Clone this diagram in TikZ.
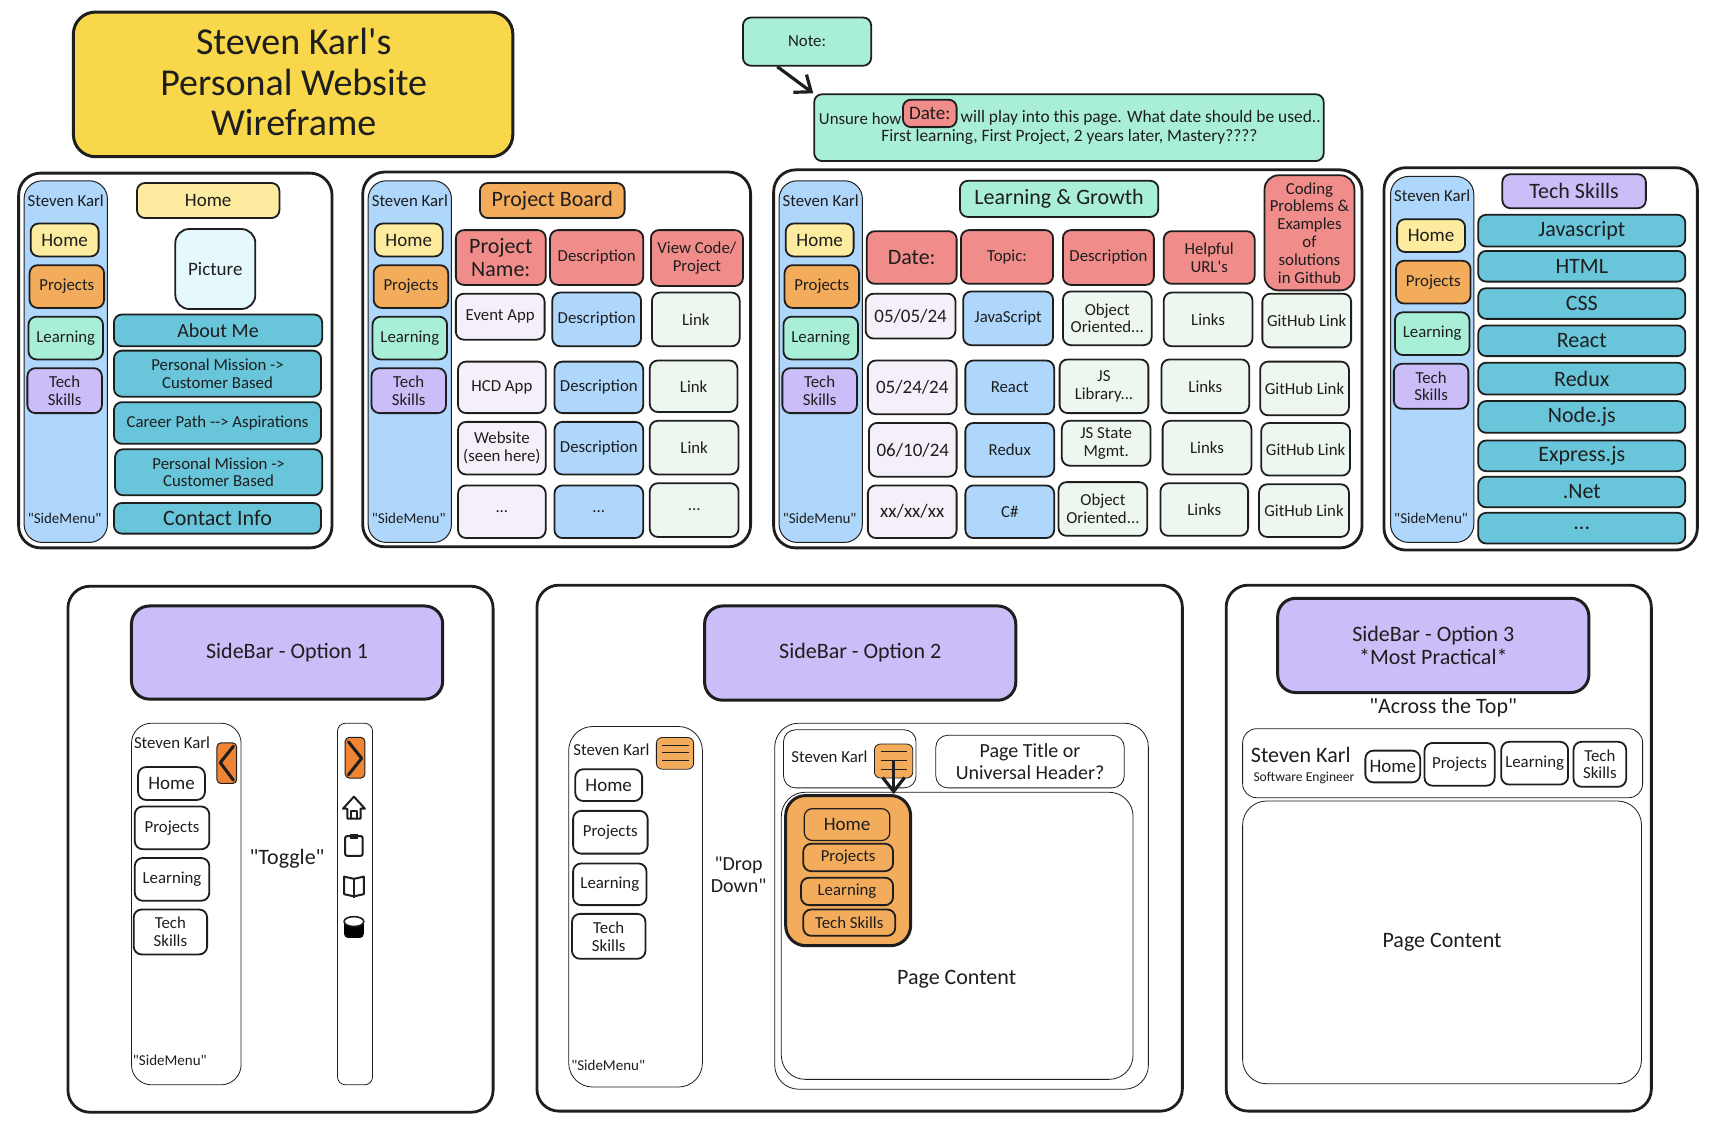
\documentclass[tikz,border=0pt]{standalone}
\usepackage{fontspec}
\setmainfont{Carlito}[Ligatures=TeXOff]
\usetikzlibrary{arrows.meta}
\definecolor{ink}{HTML}{1E1E1E}
\definecolor{sunny}{HTML}{F8D84A}
\definecolor{butter}{HTML}{FDECA0}
\definecolor{tangerine}{HTML}{F3AC5B}
\definecolor{burnt}{HTML}{EE8434}
\definecolor{mint}{HTML}{A9EFD8}
\definecolor{lilac}{HTML}{CBBDF8}
\definecolor{sky}{HTML}{AFD6FB}
\definecolor{teal}{HTML}{69C5DA}
\definecolor{salmon}{HTML}{F08C8A}
\definecolor{palelilac}{HTML}{F5EFF9}
\definecolor{palegreen}{HTML}{EEF7EF}
\definecolor{paleblue}{HTML}{E5F8FC}
\tikzset{
  sz7/.style={font=\fontsize{7.5}{8.5}\selectfont},
  sz8/.style={font=\fontsize{8.4}{8.9}\selectfont},
  szline/.style={font=\fontsize{8.7}{9.5}\selectfont},
  sz9/.style={font=\fontsize{9.5}{11}\selectfont},
  sz10/.style={font=\fontsize{10}{11}\selectfont},
  sz11/.style={font=\fontsize{11}{11.2}\selectfont},
  sz17/.style={font=\fontsize{19}{20.2}\selectfont},
  label/.style={text=ink, inner sep=0pt, align=center},
  card/.style={draw=ink, fill=#1, line width=.9pt, rounded corners=4pt, label},
  frame/.style={draw=ink, fill=white, line width=1.4pt, rounded corners=11pt, label},
  wire/.style={draw=ink, fill=white, line width=.4pt, rounded corners=#1, label},
  banner/.style={draw=ink, fill=lilac, line width=1.5pt, rounded corners=9pt, label, sz11},
  tip/.style={draw=ink, line width=1.6pt, -{Straight Barb[length=7pt,width=11pt]}},
  stroke/.style={draw=ink, line width=1pt, line cap=round, line join=round},
}
% corners of a box: name, style, x1, y1, x2, y2, text
\newcommand{\wbox}[7]{\node[#2, minimum width={((#5)-(#3))*0.548pt}, minimum height={((#6)-(#4))*0.548pt}] (#1) at ({((#3)+(#5))/2},{((#4)+(#6))/2}) {#7};}
\begin{document}
\begin{tikzpicture}[x=0.548pt,y=-0.548pt]
\useasboundingbox (0,0) rectangle (1566,1036.7);
% title and note
\wbox{title}{card=sunny, line width=1.5pt, rounded corners=11pt}{67}{11}{468}{143}{}
\node[label, sz17] (titletext) at (268,75) {Steven Karl's\\Personal Website\\Wireframe};
\wbox{note}{card=mint, sz8}{678}{16}{795}{60}{Note:}
\wbox{unsure}{card=mint}{743}{86}{1208}{147}{}
\wbox{date}{card=salmon, sz9}{824}{91}{873}{116}{Date:}
\node[label, sz8] (unsureA) at (785,108) {Unsure how};
\node[label, szline] (unsureB) at (1041,108) {will play into this page. What date should be used..};
\node[label, szline] (unsureC) at (976,125) {First learning, First Project, 2 years later, Mastery????};
\draw[tip] (note.220) -- (unsure.north west);
% page frames
\wbox{homeframe}{frame}{17}{158}{303}{500}{}
\wbox{boardframe}{frame}{331}{157}{685}{499}{}
\wbox{growthframe}{frame}{706}{155}{1243}{500}{}
\wbox{skillsframe}{frame}{1263}{153}{1549}{502}{}
% side menus
\foreach \n/\sx/\sy in {a/0/0,b/314/0,c/689/0,d/1247/-4}{
  \wbox{\n-side}{card=sky, line width=.5pt, rounded corners=9pt}{\sx+22}{\sy+165}{\sx+98}{495}{}
  \node[label, sz8] (\n-brand) at (\sx+60,\sy+183) {Steven Karl};
  \wbox{\n-home}{card=butter, sz9}{\sx+28}{\sy+204}{\sx+90}{\sy+234}{Home}
  \wbox{\n-projects}{card=tangerine, sz8}{\sx+27}{\sy+242}{\sx+95}{\sy+281}{Projects}
  \wbox{\n-learning}{card=mint, sz8}{\sx+26}{\sy+289}{\sx+94}{\sy+328}{Learning}
  \wbox{\n-tech}{card=lilac, sz8}{\sx+25}{\sy+336}{\sx+93}{\sy+377}{Tech\\Skills}
  \node[label, sz7] (\n-menu) at (\sx+59,473) {"SideMenu"};
}
% home page
\wbox{homehead}{card=butter, sz9}{125}{167}{255}{199}{Home}
\wbox{picture}{card=paleblue, sz9, rounded corners=7pt}{160}{209}{233}{282}{Picture}
\wbox{about}{card=teal, sz10}{104}{287}{294}{316}{About Me}
\wbox{missionA}{card=teal, sz8}{104}{320}{293}{362}{Personal Mission ->\\Customer Based}
\wbox{career}{card=teal, sz8}{104}{367}{293}{405}{Career Path --> Aspirations}
\wbox{missionB}{card=teal, sz8}{105}{410}{294}{452}{Personal Mission ->\\Customer Based}
\wbox{contact}{card=teal, sz11}{104}{459}{293}{487}{Contact Info}
% project board
\wbox{boardhead}{card=tangerine, sz11}{438}{167}{570}{199}{Project Board}
\wbox{bname}{card=salmon, sz11}{416}{210}{498}{260}{Project\\Name:}
\wbox{bdesc}{card=salmon, sz8}{502}{210}{587}{260}{Description}
\wbox{bcode}{card=salmon, sz8}{594}{210}{678}{261}{View Code/\\Project}
\wbox{eventapp}{card=palelilac, sz8}{416}{268}{497}{310}{Event App}
\wbox{bdescA}{card=sky, sz8}{504}{267}{585}{316}{Description}
\wbox{blinkA}{card=palegreen, sz8}{595}{267}{675}{316}{Link}
\wbox{hcdapp}{card=palelilac, sz8}{418}{330}{498}{377}{HCD App}
\wbox{bdescB}{card=sky, sz8}{506}{330}{587}{377}{Description}
\wbox{blinkB}{card=palegreen, sz8}{593}{329}{673}{376}{Link}
\wbox{website}{card=palelilac, sz8}{418}{385}{498}{433}{Website\\(seen here)}
\wbox{bdescC}{card=sky, sz8}{506}{385}{587}{433}{Description}
\wbox{blinkC}{card=palegreen, sz8}{593}{384}{674}{433}{Link}
\wbox{bmoreA}{card=palelilac, sz8}{418}{443}{498}{491}{...}
\wbox{bmoreB}{card=sky, sz8}{506}{443}{587}{491}{...}
\wbox{bmoreC}{card=palegreen, sz8}{593}{441}{674}{490}{...}
% learning and growth
\wbox{growthhead}{card=mint, sz11}{876}{165}{1057}{198}{Learning \& Growth}
\wbox{coding}{card=salmon, sz8, rounded corners=7pt}{1154}{160}{1236}{265}{Coding\\Problems \&\\Examples\\of\\solutions\\in Github}
\wbox{gdate}{card=salmon, sz11}{791}{211}{873}{259}{Date:}
\wbox{gtopic}{card=salmon, sz8}{877}{210}{961}{259}{Topic:}
\wbox{gdesc}{card=salmon, sz8}{970}{210}{1053}{260}{Description}
\wbox{ghelp}{card=salmon, sz8}{1062}{211}{1145}{259}{Helpful\\URL's}
\wbox{dateA}{card=palelilac, sz9}{790}{268}{872}{309}{05/05/24}
\wbox{topicA}{card=sky, sz8}{879}{266}{961}{315}{JavaScript}
\wbox{descA}{card=palegreen, sz8}{970}{266}{1051}{315}{Object\\Oriented...}
\wbox{linksA}{card=palegreen, sz8}{1062}{267}{1143}{316}{Links}
\wbox{hubA}{card=palegreen, sz8}{1152}{268}{1233}{317}{GitHub Link}
\wbox{dateB}{card=palelilac, sz9}{792}{329}{873}{378}{05/24/24}
\wbox{topicB}{card=sky, sz8}{881}{329}{962}{378}{React}
\wbox{descB}{card=palegreen, sz8}{967}{328}{1048}{377}{JS\\Library...}
\wbox{linksB}{card=palegreen, sz8}{1060}{328}{1140}{377}{Links}
\wbox{hubB}{card=palegreen, sz8}{1150}{330}{1231}{379}{GitHub Link}
\wbox{dateC}{card=palelilac, sz9}{793}{386}{873}{435}{06/10/24}
\wbox{topicC}{card=sky, sz8}{881}{386}{962}{435}{Redux}
\wbox{descC}{card=palegreen, sz8}{969}{384}{1050}{425}{JS State\\Mgmt.}
\wbox{linksC}{card=palegreen, sz8}{1061}{384}{1142}{433}{Links}
\wbox{hubC}{card=palegreen, sz8}{1151}{386}{1232}{434}{GitHub Link}
\wbox{dateD}{card=palelilac, sz9}{792}{443}{873}{491}{xx/xx/xx}
\wbox{topicD}{card=sky, sz8}{881}{443}{962}{491}{C\#}
\wbox{descD}{card=palegreen, sz8}{966}{440}{1047}{489}{Object\\Oriented...}
\wbox{linksD}{card=palegreen, sz8}{1059}{441}{1139}{489}{Links}
\wbox{hubD}{card=palegreen, sz8}{1149}{442}{1231}{490}{GitHub Link}
% tech skills
\wbox{skillshead}{card=lilac, sz11}{1371}{159}{1502}{190}{Tech Skills}
\foreach \n/\ya/\yb/\lab in {js/196/225/Javascript,html/229/257/HTML,css/263/291/CSS,react/297/325/React,redux/331/360/Redux,node/366/395/Node.js,express/402/430/Express.js,net/435/463/.Net}{
  \wbox{\n}{card=teal, sz11}{1349}{\ya}{1538}{\yb}{\lab}
}
\wbox{more}{card=teal, sz11}{1349}{468}{1538}{496}{...}
% option 1
\wbox{optAframe}{frame}{62}{535}{450}{1015}{}
\wbox{optAhead}{banner}{120}{553}{404}{638}{SideBar - Option 1}
\wbox{optAside}{wire=10pt}{120}{660}{220}{990}{}
\node[label, sz8] (optAbrand) at (157,678) {Steven Karl};
\wbox{optAtoggle}{card=burnt, line width=.5pt, rounded corners=2pt}{198}{678}{216}{715}{}
\draw[stroke, line width=1.5pt] (213,681) -- (201,696) -- (213,712);
\wbox{optAhome}{card=white, sz9}{126}{700}{187}{730}{Home}
\wbox{optAprojects}{card=white, sz8}{123}{736}{191}{775}{Projects}
\wbox{optAlearning}{card=white, sz8}{123}{783}{191}{822}{Learning}
\wbox{optAtech}{card=white, sz8}{122}{830}{189}{871}{Tech\\Skills}
\node[label, sz7] (optAmenu) at (155,968) {"SideMenu"};
\node[label, sz11] (toggle) at (262,784) {"Toggle"};
\wbox{rail}{wire=4pt}{308}{660}{340}{990}{}
\wbox{railtoggle}{card=burnt, line width=.5pt, rounded corners=2pt}{315}{673}{333}{710}{}
\draw[stroke, line width=1.5pt] (318,677) -- (330,692) -- (318,707);
% rail icons
\draw[stroke] (313,738) -- (323,727) -- (333,738) -- (329,738) -- (329,747) -- (317,747) -- (317,738) -- cycle;
\draw[stroke] (320,747) -- (320,740) -- (326,740) -- (326,747);
\draw[stroke, rounded corners=1pt] (315,763) rectangle (331,781);
\fill[ink] (319,761) rectangle (327,766);
\draw[stroke] (323,802) -- (314,800) -- (314,816) -- (323,818) -- (332,816) -- (332,800) -- cycle;
\draw[stroke] (323,802) -- (323,819);
\fill[black, rounded corners=2pt] (314,840) rectangle (332,856);
\draw[stroke, fill=white, line width=.8pt] (323,841) ellipse [x radius=9, y radius=4.5];
% option 2
\wbox{optBframe}{frame}{490}{534}{1079}{1014}{}
\wbox{optBhead}{banner}{643}{553}{927}{639}{SideBar - Option 2}
\wbox{optBside}{wire=12pt}{519}{663}{641}{992}{}
\node[label, sz8] (optBbrand) at (558,684) {Steven Karl};
\wbox{burgerA}{card=tangerine, line width=.4pt, rounded corners=3pt}{599}{673}{633}{702}{}
\foreach \y in {680,687,694}{\draw[ink, line width=.5pt] (604,\y) -- (629,\y);}
\wbox{optBhome}{card=white, sz9}{525}{702}{586}{731}{Home}
\wbox{optBprojects}{card=white, sz8}{523}{740}{591}{779}{Projects}
\wbox{optBlearning}{card=white, sz8}{523}{788}{590}{826}{Learning}
\wbox{optBtech}{card=white, sz8}{522}{834}{589}{875}{Tech\\Skills}
\node[label, sz7] (optBmenu) at (555,972) {"SideMenu"};
\node[label, sz10] (dropdown) at (674,798) {"Drop\\Down"};
\wbox{optBouter}{wire=12pt}{707}{660}{1048}{994}{}
\wbox{optBtop}{wire=6pt}{715}{666}{836}{719}{}
\node[label, sz8] (optBtopbrand) at (757,691) {Steven Karl};
\wbox{burgerB}{card=tangerine, line width=.4pt, rounded corners=3pt}{798}{679}{833}{710}{}
\foreach \y in {686,694,702}{\draw[ink, line width=.5pt] (804,\y) -- (828,\y);}
\wbox{pagetitle}{wire=6pt, sz10}{854}{671}{1026}{719}{Page Title or\\Universal Header?}
\wbox{optBcontent}{wire=12pt}{713}{723}{1034}{985}{}
\wbox{droppanel}{card=tangerine, line width=1.5pt, rounded corners=10pt}{717}{726}{831}{863}{}
\wbox{dropA}{card=tangerine, line width=.6pt, sz9}{734}{738}{812}{767}{Home}
\wbox{dropB}{card=tangerine, sz8}{733}{770}{815}{795}{Projects}
\wbox{dropC}{card=tangerine, sz8}{731}{801}{815}{826}{Learning}
\wbox{dropD}{card=tangerine, sz8}{733}{830}{817}{854}{Tech Skills}
\draw[tip] (burgerB.center) -- (burgerB.center |- droppanel.north);
\node[label, sz11] (optBpage) at (873,894) {Page Content};
% option 3
\wbox{optCframe}{frame}{1119}{534}{1507}{1014}{}
\wbox{optChead}{banner}{1166}{546}{1450}{632}{SideBar - Option 3\\*Most Practical*}
\node[label, sz11] (across) at (1317,646) {"Across the Top"};
\wbox{navbar}{wire=7pt}{1134}{665}{1499}{728}{}
\node[label, sz11] (navbrand) at (1187,689) {Steven Karl};
\node[label, font=\fontsize{6.8}{8}\selectfont] (navrole) at (1190,710) {Software Engineer};
\wbox{navhome}{card=white, sz9}{1246}{685}{1296}{714}{Home}
\wbox{navprojects}{card=white, sz8}{1300}{678}{1364}{717}{Projects}
\wbox{navlearning}{card=white, sz8}{1370}{677}{1431}{716}{Learning}
\wbox{navtech}{card=white, sz8}{1436}{677}{1484}{718}{Tech\\Skills}
\wbox{navpage}{wire=12pt, sz11}{1134}{731}{1498}{989}{Page Content}
\end{tikzpicture}
\end{document}
